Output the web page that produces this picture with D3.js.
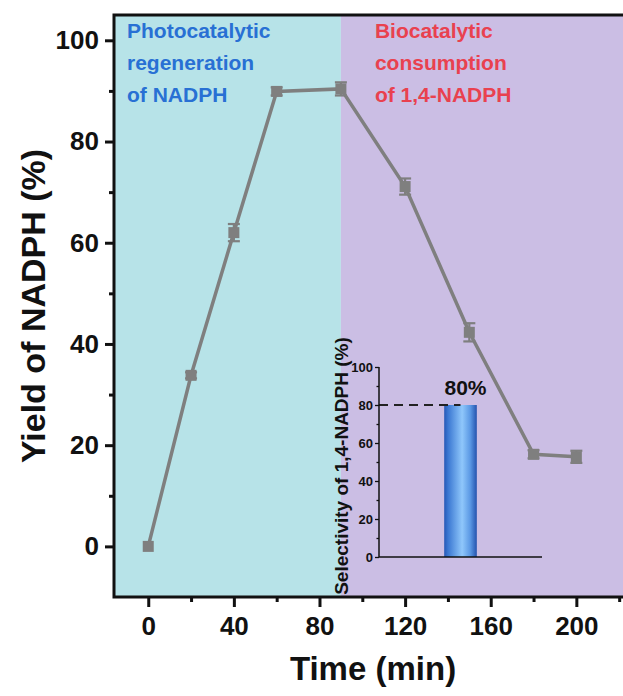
<!DOCTYPE html>
<html>
<head>
<meta charset="utf-8">
<script src="https://cdn.jsdelivr.net/npm/d3@7/dist/d3.min.js"></script>
<style>
  html, body { margin: 0; padding: 0; background: #ffffff; }
  svg { display: block; }
  text { font-family: "Liberation Sans", Arial, Helvetica, sans-serif; font-weight: bold; }
</style>
</head>
<body>
<svg id="chart" width="623" height="696"></svg>
<script>
// Reaction time course (min) and NADPH yield (%)
const times = [0, 20, 40, 60, 90, 120, 150, 180, 200];
const yields = [0, 33.8, 62.0, 89.9, 90.4, 71.1, 42.3, 18.2, 17.7];
const yieldErr = [0, 0.6, 1.7, 0.8, 1.3, 1.6, 1.8, 0.8, 1.2];

// Phase boundary and phase captions
const phaseBoundary = 90;
const photoLines = ["Photocatalytic", "regeneration", "of NADPH"];
const bioLines = ["Biocatalytic", "consumption", "of 1,4-NADPH"];

// Main axis ticks
const xMajor = [0, 40, 80, 120, 160, 200];
const xMinor = [20, 60, 100, 140, 180, 220];
const yMajor = [0, 20, 40, 60, 80, 100];
const yMinor = [10, 30, 50, 70, 90];

// Inset: selectivity bar
const insetCategories = ["1,4-NADPH"];
const insetValues = [80];
const insetMajor = [0, 20, 40, 60, 80, 100];
const insetMinor = [10, 30, 50, 70, 90];

const svg = d3.select("#chart");

const frame = { left: 114, right: 632, top: 15, bottom: 597 };
const x = d3.scaleLinear().domain([-16, 226]).range([frame.left, frame.right]);
const y = d3.scaleLinear().domain([-10, 105]).range([frame.bottom, frame.top]);

// Phase backgrounds
svg.append("rect")
  .attr("x", frame.left).attr("y", frame.top)
  .attr("width", x(phaseBoundary) - frame.left)
  .attr("height", frame.bottom - frame.top)
  .attr("fill", "#b7e3e8");
svg.append("rect")
  .attr("x", x(phaseBoundary)).attr("y", frame.top)
  .attr("width", frame.right - x(phaseBoundary))
  .attr("height", frame.bottom - frame.top)
  .attr("fill", "#cbbee4");

// Phase captions
const capSize = 21, capStep = 32;
svg.append("g").selectAll("text").data(photoLines).join("text")
  .attr("x", frame.left + 13)
  .attr("y", (d, i) => 38 + i * capStep)
  .attr("font-size", capSize)
  .attr("fill", "#2870d4")
  .text(d => d);
svg.append("g").selectAll("text").data(bioLines).join("text")
  .attr("x", x(phaseBoundary) + 34)
  .attr("y", (d, i) => 38 + i * capStep)
  .attr("font-size", capSize)
  .attr("fill", "#e9414f")
  .text(d => d);

// ---- Inset: selectivity bar chart ----
const inset = { left: 379, right: 542, top: 367, bottom: 557 };
const ix = d3.scaleBand().domain(insetCategories)
  .range([inset.left, inset.right]).paddingInner(0.8).paddingOuter(0.4);
const iy = d3.scaleLinear().domain([0, 100]).range([inset.bottom, inset.top]);

const defs = svg.append("defs");
const grad = defs.append("linearGradient").attr("id", "barGrad")
  .attr("x1", "0%").attr("x2", "100%").attr("y1", "0%").attr("y2", "0%");
[[0, "#2658b6"], [0.12, "#3b78d2"], [0.55, "#8fc7fb"], [0.8, "#5a98e4"], [1, "#2453ae"]]
  .forEach(([o, c]) => grad.append("stop").attr("offset", o).attr("stop-color", c));

const ig = svg.append("g");
ig.selectAll("rect.bar").data(insetValues).join("rect")
  .attr("class", "bar")
  .attr("x", (d, i) => ix(insetCategories[i]))
  .attr("width", ix.bandwidth())
  .attr("y", d => iy(d))
  .attr("height", d => iy(0) - iy(d))
  .attr("fill", "url(#barGrad)");

// dashed reference line at the bar value
ig.selectAll("line.ref").data(insetValues).join("line")
  .attr("class", "ref")
  .attr("x1", inset.left)
  .attr("x2", (d, i) => ix(insetCategories[i]) + ix.bandwidth() / 2)
  .attr("y1", d => iy(d)).attr("y2", d => iy(d))
  .attr("stroke", "#222").attr("stroke-width", 1.8)
  .attr("stroke-dasharray", "9,6");

ig.selectAll("text.val").data(insetValues).join("text")
  .attr("class", "val")
  .attr("x", (d, i) => ix(insetCategories[i]) + ix.bandwidth() / 2 + 5)
  .attr("y", d => iy(d) - 10)
  .attr("text-anchor", "middle")
  .attr("font-size", 21)
  .attr("fill", "#111")
  .text(d => d + "%");

// inset axes
const iAxisMajor = ig.append("g").attr("transform", `translate(${inset.left},0)`)
  .call(d3.axisLeft(iy).tickValues(insetMajor).tickSize(4).tickPadding(2));
const iAxisMinor = ig.append("g").attr("transform", `translate(${inset.left},0)`)
  .call(d3.axisLeft(iy).tickValues(insetMinor).tickSize(2.5).tickFormat(""));
[iAxisMajor, iAxisMinor].forEach(g => {
  g.select(".domain").remove();
  g.selectAll("line").attr("stroke", "#111").attr("stroke-width", 1.3);
});
iAxisMajor.selectAll("text").attr("font-size", 13).attr("fill", "#111")
  .style("font-family", "'Liberation Sans', Arial, sans-serif").style("font-weight", "bold");
ig.append("line")
  .attr("x1", inset.left).attr("x2", inset.left)
  .attr("y1", inset.top).attr("y2", inset.bottom)
  .attr("stroke", "#111").attr("stroke-width", 1.5);
ig.append("line")
  .attr("x1", inset.left).attr("x2", inset.right)
  .attr("y1", inset.bottom).attr("y2", inset.bottom)
  .attr("stroke", "#111").attr("stroke-width", 1.5);

ig.append("text")
  .attr("transform", `translate(348,${(inset.top + inset.bottom) / 2 + 4}) rotate(-90)`)
  .attr("text-anchor", "middle")
  .attr("font-size", 19)
  .attr("fill", "#111")
  .text("Selectivity of 1,4-NADPH (%)");

// ---- Main series ----
const grey = "#7f7f7f";
const pts = times.map((t, i) => ({ t, v: yields[i], e: yieldErr[i] }));

svg.append("path")
  .datum(pts)
  .attr("fill", "none")
  .attr("stroke", grey)
  .attr("stroke-width", 3.5)
  .attr("d", d3.line().x(d => x(d.t)).y(d => y(d.v)));

const eb = svg.append("g").attr("stroke", grey).attr("stroke-width", 2.2);
pts.filter(d => d.e > 0).forEach(d => {
  eb.append("line").attr("x1", x(d.t)).attr("x2", x(d.t))
    .attr("y1", y(d.v - d.e)).attr("y2", y(d.v + d.e));
  [d.v - d.e, d.v + d.e].forEach(v => {
    eb.append("line").attr("x1", x(d.t) - 6).attr("x2", x(d.t) + 6)
      .attr("y1", y(v)).attr("y2", y(v));
  });
});

const ms = 11;
svg.append("g").selectAll("rect").data(pts).join("rect")
  .attr("x", d => x(d.t) - ms / 2)
  .attr("y", d => y(d.v) - ms / 2)
  .attr("width", ms).attr("height", ms)
  .attr("fill", grey);

// ---- Main axes ----
const axX = svg.append("g").attr("transform", `translate(0,${frame.bottom})`)
  .call(d3.axisBottom(x).tickValues(xMajor).tickSize(10).tickPadding(10));
const axXm = svg.append("g").attr("transform", `translate(0,${frame.bottom})`)
  .call(d3.axisBottom(x).tickValues(xMinor).tickSize(5).tickFormat(""));
const axY = svg.append("g").attr("transform", `translate(${frame.left},0)`)
  .call(d3.axisLeft(y).tickValues(yMajor).tickSize(9).tickPadding(6));
const axYm = svg.append("g").attr("transform", `translate(${frame.left},0)`)
  .call(d3.axisLeft(y).tickValues(yMinor).tickSize(5).tickFormat(""));
[axX, axXm, axY, axYm].forEach(g => {
  g.select(".domain").remove();
  g.selectAll("line").attr("stroke", "#111").attr("stroke-width", 3);
});
[axX, axY].forEach(g => g.selectAll("text")
  .attr("font-size", 26).attr("fill", "#111")
  .style("font-family", "'Liberation Sans', Arial, sans-serif").style("font-weight", "bold"));

// frame
svg.append("rect")
  .attr("x", frame.left).attr("y", frame.top)
  .attr("width", frame.right - frame.left).attr("height", frame.bottom - frame.top)
  .attr("fill", "none").attr("stroke", "#111").attr("stroke-width", 3);

// axis titles
svg.append("text")
  .attr("x", (frame.left + frame.right) / 2).attr("y", 680)
  .attr("text-anchor", "middle").attr("font-size", 33).attr("fill", "#111")
  .text("Time (min)");
svg.append("text")
  .attr("transform", `translate(45,${(frame.top + frame.bottom) / 2}) rotate(-90)`)
  .attr("text-anchor", "middle").attr("font-size", 34).attr("fill", "#111")
  .text("Yield of NADPH (%)");
</script>
</body>
</html>
